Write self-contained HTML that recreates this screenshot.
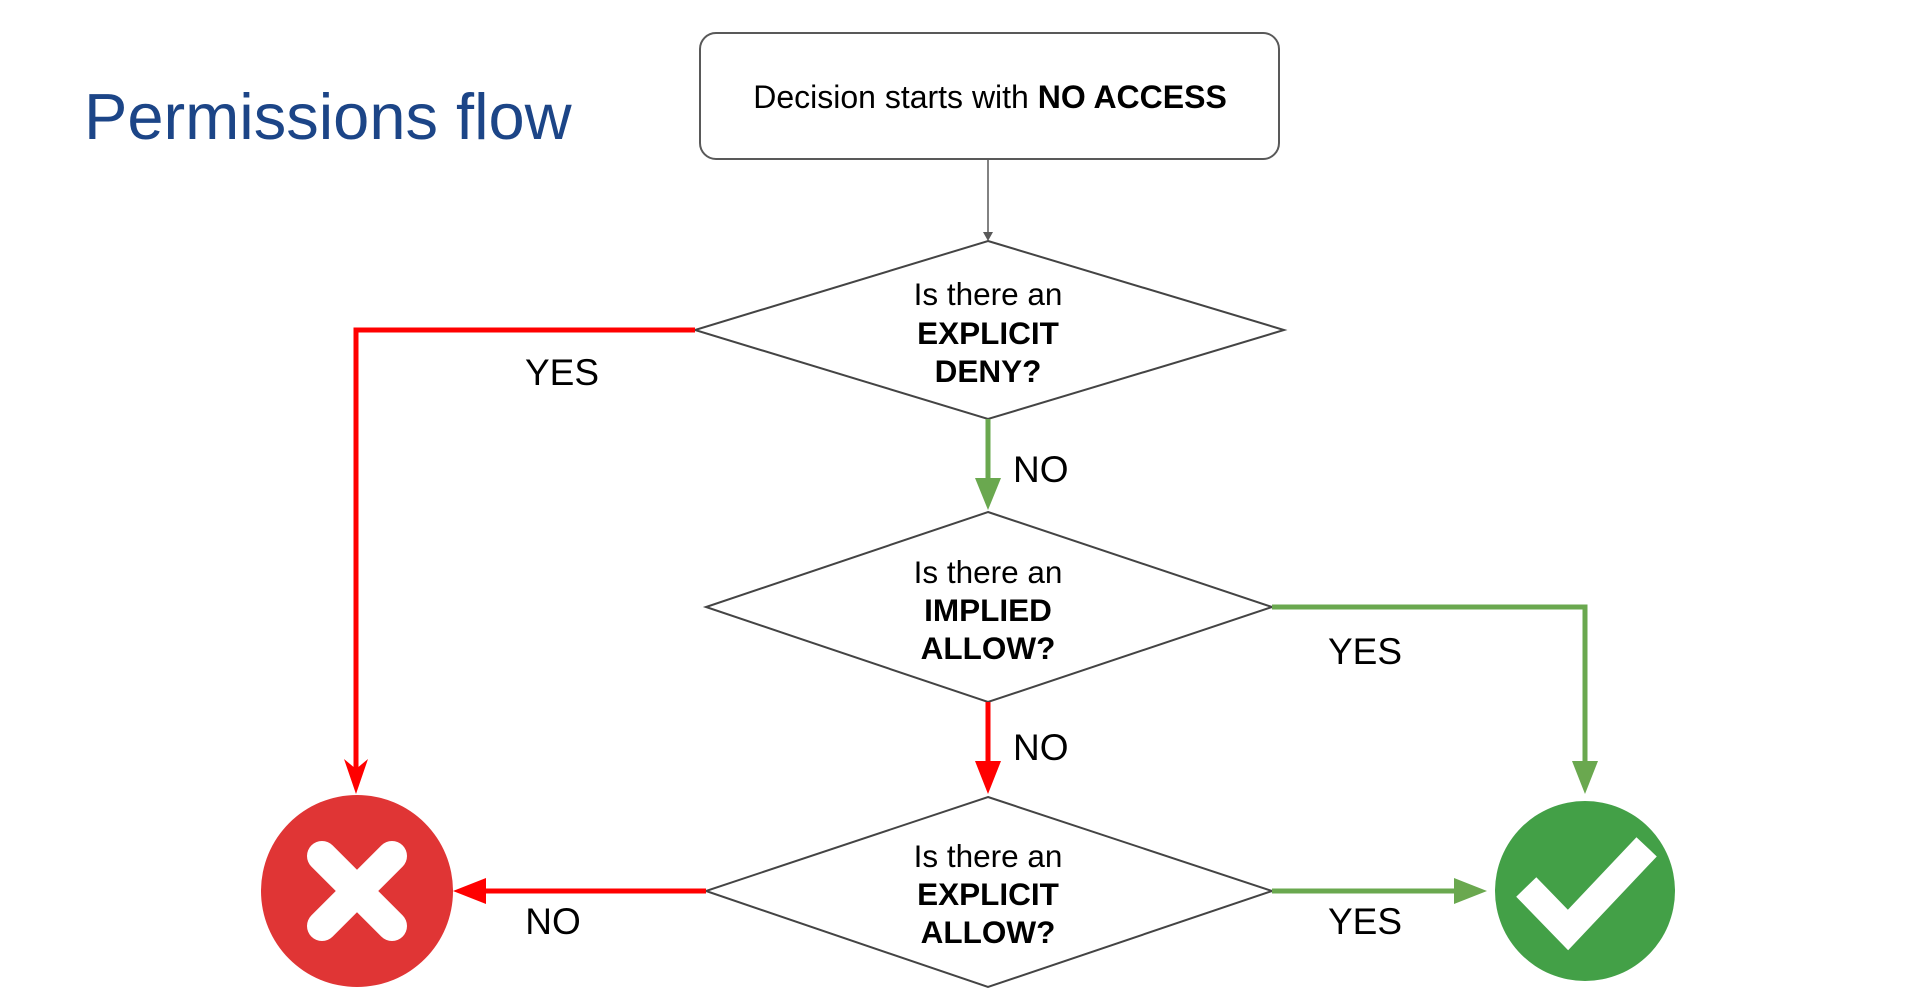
<!DOCTYPE html>
<html><head><style>
html,body{margin:0;padding:0;background:#fff;}
svg{display:block;}
text{font-family:"Liberation Sans",Arial,sans-serif;}
</style></head><body>
<svg width="1920" height="1007" viewBox="0 0 1920 1007" xmlns="http://www.w3.org/2000/svg">
<text x="84" y="139" font-size="65" fill="#1c4587">Permissions flow</text>
<rect x="700" y="33" width="579" height="126" rx="16" fill="#fff" stroke="#595959" stroke-width="2"/>
<text x="990" y="108" font-size="32" text-anchor="middle" fill="#000">Decision starts with <tspan font-weight="bold">NO ACCESS</tspan></text>
<line x1="988" y1="159" x2="988" y2="234" stroke="#595959" stroke-width="1.5"/>
<polygon points="983,232 993,232 988,241" fill="#595959"/>

<polygon points="988,241 1284,330 988,419 695,330" fill="#fff" stroke="#444" stroke-width="2"/>
<g font-size="31.5" text-anchor="middle" fill="#000">
<text x="988" y="305">Is there an</text>
<text x="988" y="344" font-weight="bold">EXPLICIT</text>
<text x="988" y="382" font-weight="bold">DENY?</text>
</g>

<polyline points="695,330 356,330 356,787" fill="none" stroke="#ff0000" stroke-width="5"/>
<polygon points="344,759 356,794 368,759 356,769" fill="#ff0000"/>
<text x="562" y="385" font-size="37" text-anchor="middle">YES</text>

<line x1="988" y1="419" x2="988" y2="482" stroke="#6aa84f" stroke-width="5"/>
<polygon points="975,478 1001,478 988,510" fill="#6aa84f"/>
<text x="1013" y="482" font-size="37">NO</text>

<polygon points="988,512 1272,607 988,702 706,607" fill="#fff" stroke="#444" stroke-width="2"/>
<g font-size="31.5" text-anchor="middle" fill="#000">
<text x="988" y="583">Is there an</text>
<text x="988" y="621" font-weight="bold">IMPLIED</text>
<text x="988" y="659" font-weight="bold">ALLOW?</text>
</g>

<polyline points="1272,607 1585,607 1585,765" fill="none" stroke="#6aa84f" stroke-width="5"/>
<polygon points="1572,761 1598,761 1585,794" fill="#6aa84f"/>
<text x="1365" y="664" font-size="37" text-anchor="middle">YES</text>

<line x1="988" y1="702" x2="988" y2="765" stroke="#ff0000" stroke-width="5"/>
<polygon points="975,761 1001,761 988,794" fill="#ff0000"/>
<text x="1013" y="760" font-size="37">NO</text>

<polygon points="988,797 1272,891 988,987 706,891" fill="#fff" stroke="#444" stroke-width="2"/>
<g font-size="31.5" text-anchor="middle" fill="#000">
<text x="988" y="867">Is there an</text>
<text x="988" y="905" font-weight="bold">EXPLICIT</text>
<text x="988" y="943" font-weight="bold">ALLOW?</text>
</g>

<line x1="706" y1="891" x2="482" y2="891" stroke="#ff0000" stroke-width="5"/>
<polygon points="486,878 486,904 453,891" fill="#ff0000"/>
<text x="553" y="934" font-size="37" text-anchor="middle">NO</text>

<line x1="1272" y1="891" x2="1458" y2="891" stroke="#6aa84f" stroke-width="5"/>
<polygon points="1454,878 1454,904 1487,891" fill="#6aa84f"/>
<text x="1365" y="934" font-size="37" text-anchor="middle">YES</text>

<circle cx="357" cy="891" r="96" fill="#e03535"/>
<g stroke="#fff" stroke-width="30" stroke-linecap="round">
<line x1="322" y1="856" x2="392" y2="926"/>
<line x1="392" y1="856" x2="322" y2="926"/>
</g>
<circle cx="1585" cy="891" r="90" fill="#43a047"/>
<polyline points="1536,897 1568,930 1637,857" fill="none" stroke="#fff" stroke-width="28" stroke-linecap="square"/>
</svg>
</body></html>
